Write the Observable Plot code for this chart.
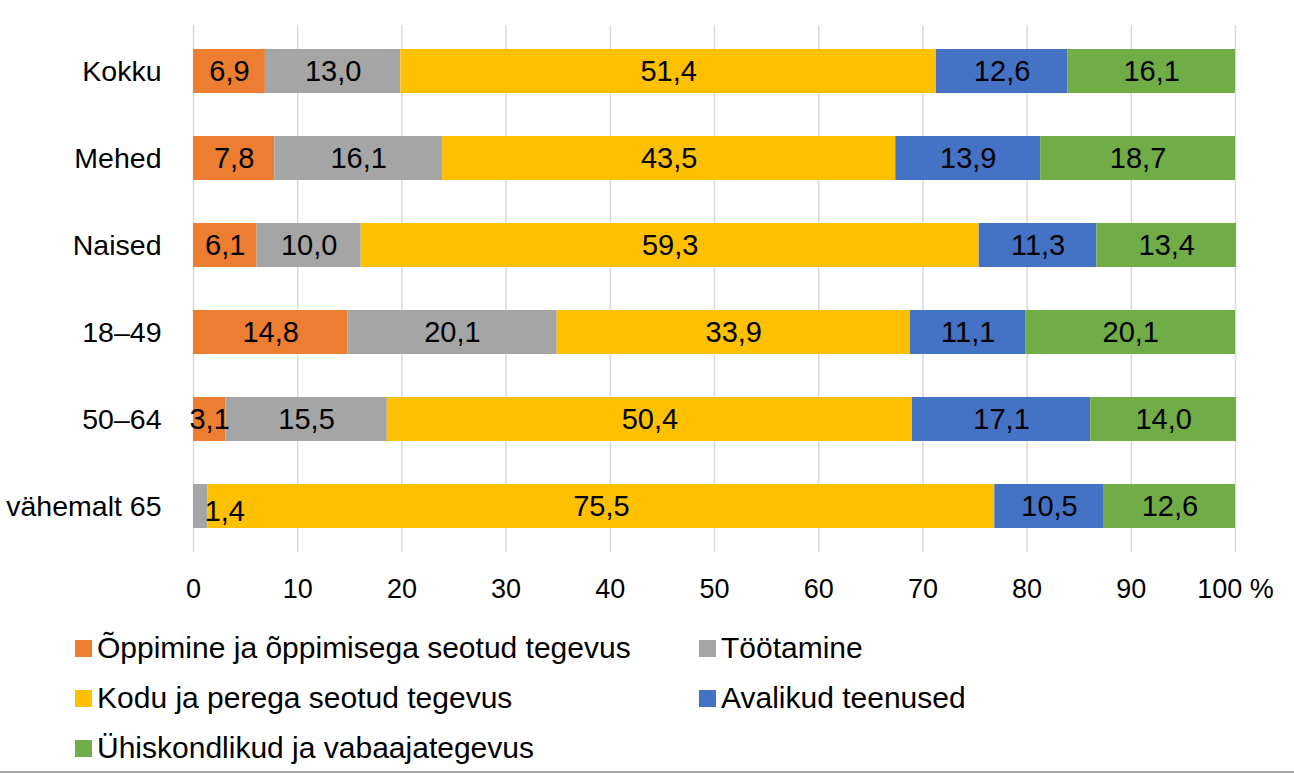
<!DOCTYPE html>
<html><head><meta charset="utf-8">
<script src="https://cdn.jsdelivr.net/npm/d3@7"></script>
<script src="https://cdn.jsdelivr.net/npm/@observablehq/plot@0.6"></script>
<style>
body{margin:0;background:#fff;font-family:"Liberation Sans",Arial,sans-serif;width:1294px;height:774px;overflow:hidden;position:relative}
#legend{position:absolute;left:0;top:620px;width:1294px;font-size:30px;color:#000}
.item{position:absolute;display:flex;align-items:center;white-space:nowrap;height:36px;line-height:36px}
.sw{width:17px;height:17px;margin-right:5px;flex:none}
#rule{position:absolute;left:0;top:771px;width:1294px;height:2px;background:#a6a6a6}
</style></head>
<body><div id="chart"></div><div id="legend"></div><div id="rule"></div>
<script>
const groups = ["Kokku", "Mehed", "Naised", "18–49", "50–64", "vähemalt 65"];
const series = ["Õppimine ja õppimisega seotud tegevus", "Töötamine", "Kodu ja perega seotud tegevus", "Avalikud teenused", "Ühiskondlikud ja vabaajategevus"];
const colors = ["#ED7D31", "#A5A5A5", "#FFC000", "#4472C4", "#70AD47"];
const oppimine = [6.9, 7.8, 6.1, 14.8, 3.1, 0];
const tootamine = [13.0, 16.1, 10.0, 20.1, 15.5, 1.4];
const kodu = [51.4, 43.5, 59.3, 33.9, 50.4, 75.5];
const avalikud = [12.6, 13.9, 11.3, 11.1, 17.1, 10.5];
const uhiskond = [16.1, 18.7, 13.4, 20.1, 14.0, 12.6];
const xTicks = [0, 10, 20, 30, 40, 50, 60, 70, 80, 90, 100];

const valuesBySeries = [oppimine, tootamine, kodu, avalikud, uhiskond];
const data = [];
groups.forEach((g, i) => series.forEach((s, j) => data.push({group: g, series: s, value: valuesBySeries[j][i]})));
const fmt = v => v.toFixed(1).replace(".", ",");
const isShifted = d => d.group === "vähemalt 65" && d.series === "Töötamine";
const tickFmt = d => d === 100 ? "100 %" : String(d);

const chart = Plot.plot({
  width: 1294, height: 612,
  marginLeft: 193, marginRight: 59, marginTop: 25, marginBottom: 60,
  style: {fontFamily: '"Liberation Sans", Arial, sans-serif', fontSize: "27px", color: "#000", background: "#fff"},
  x: {domain: [0, 100], ticks: xTicks, label: null},
  y: {domain: groups, paddingInner: 0.5, paddingOuter: 0.25, label: null},
  color: {domain: series, range: colors},
  marks: [
    Plot.ruleX(xTicks, {stroke: "#d9d9d9", strokeWidth: 1.5}),
    Plot.barX(data, Plot.stackX({x: "value", y: "group", fill: "series", order: series})),
    Plot.text(data, Plot.stackX({x: "value", y: "group", z: "series", order: series,
      text: d => d.value > 0 && !isShifted(d) ? fmt(d.value) : "", fill: "#000", fontSize: 29})),
    Plot.text(data, Plot.stackX({x: "value", y: "group", z: "series", order: series,
      text: d => isShifted(d) ? fmt(d.value) : "", fill: "#000", fontSize: 29, dx: 24, dy: 5})),
    Plot.axisY({tickSize: 0, tickPadding: 32, fontSize: 28.5}),
    Plot.axisX({ticks: xTicks, tickSize: 0, tickPadding: 26, fontSize: 27, tickFormat: tickFmt})
  ]
});
document.getElementById("chart").appendChild(chart);

const legend = document.getElementById("legend");
const pos = [[75, 0], [699, 0], [75, 1], [699, 1], [75, 2]];
series.forEach((s, i) => {
  const el = document.createElement("div");
  el.className = "item";
  el.style.left = pos[i][0] + "px";
  el.style.top = (pos[i][1] * 50 + 10) + "px";
  el.innerHTML = `<div class="sw" style="background:${colors[i]}"></div><span>${s}</span>`;
  legend.appendChild(el);
});
</script></body></html>
